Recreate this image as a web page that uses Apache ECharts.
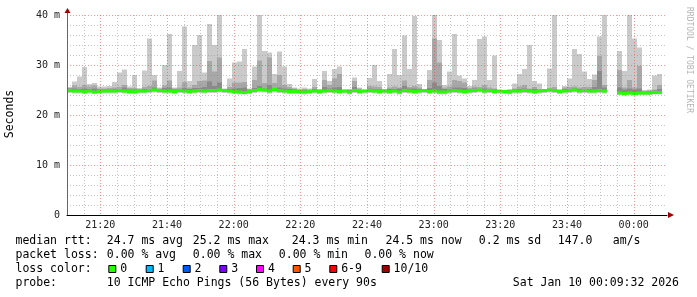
<!DOCTYPE html>
<html><head><meta charset="utf-8">
<script src="https://cdn.jsdelivr.net/npm/echarts@6/dist/echarts.min.js"></script>
<style>html,body{margin:0;padding:0;background:#fff}#c{width:697px;height:297px}</style>
</head><body><div id="c"></div>
<script>
// time of first column, minutes relative to 21:20 ; each column is one 90 s step
const startMinute = -10;
const stepMinutes = 1.5;

const pingMax = [
  25.5, 26.7, 27.7, 29.6, 26.2, 26.4, 25.7, 25.7, 25.8, 26.6,
  28.5, 29.1, 25.7, 28.0, 25.4, 28.9, 35.3, 28.0, 25.5, 30.0,
  36.2, 25.5, 28.8, 37.7, 26.8, 34.0, 36.0, 28.5, 38.2, 34.0,
  40.0, 25.3, 27.3, 30.5, 30.7, 33.2, 25.3, 29.7, 40.0, 32.8,
  32.5, 28.2, 32.7, 29.7, 26.2, 25.5, 25.3, 25.5, 25.3, 27.2,
  25.2, 28.8, 26.8, 29.2, 29.7, 25.1, 25.2, 27.5, 25.5, 25.1,
  27.4, 30.0, 26.8, 25.2, 28.2, 33.2, 28.0, 35.9, 29.2, 39.8,
  26.2, 25.2, 29.0, 40.0, 35.0, 26.0, 28.7, 36.2, 27.9, 27.3,
  25.8, 27.0, 35.2, 35.7, 27.0, 31.9, 25.0, 25.0, 25.2, 26.3,
  28.2, 29.2, 34.0, 26.8, 26.3, 25.2, 29.3, 40.0, 25.2, 25.8,
  27.3, 33.2, 32.2, 28.7, 27.2, 28.1, 35.7, 40.0, null, null,
  32.8, 28.8, 40.0, 35.3, 33.5, 25.0, 25.1, 27.9, 28.2, null
];
const pingHi2 = [
  25.5, 25.9, 25.6, 26.0, 25.7, 25.9, 25.3, 25.3, 25.4, 25.5,
  25.6, 26.0, 25.4, 25.4, 25.2, 25.6, 25.8, 26.9, 25.3, 25.9,
  26.9, 25.3, 25.5, 26.6, 25.5, 26.0, 26.8, 26.9, 30.8, 28.7,
  31.5, 25.2, 25.6, 26.5, 26.5, 26.6, 25.2, 27.0, 30.9, 26.4,
  31.5, 26.4, 28.0, 26.0, 25.6, 25.3, 25.1, 25.2, 25.1, 25.6,
  25.1, 27.0, 26.0, 27.3, 28.2, 25.0, 25.1, 26.8, 25.3, 25.0,
  25.8, 25.7, 25.6, 25.1, 25.5, 25.7, 25.5, 26.9, 25.6, 25.8,
  25.5, 25.1, 27.0, 35.3, 30.5, 25.5, 25.7, 27.0, 26.8, 26.5,
  25.4, 25.7, 25.6, 26.0, 25.5, 25.3, 24.9, 24.9, 25.0, 25.3,
  25.7, 26.0, 25.3, 25.6, 25.2, 25.1, 25.4, 25.6, 25.0, 25.5,
  25.6, 25.7, 25.5, 25.6, 25.6, 27.0, 31.8, 26.0, null, null,
  29.0, 25.5, 27.0, 25.5, 29.8, 24.8, 24.9, 25.1, 26.0, null
];
const pingHi3 = [
  25.3, 25.3, 25.2, 25.3, 25.2, 25.3, 25.1, 25.1, 25.1, 25.2,
  25.2, 25.5, 25.1, 25.1, 25.0, 25.2, 25.2, 25.5, 25.1, 25.4,
  25.5, 25.1, 25.2, 25.4, 25.2, 25.4, 25.4, 25.6, 26.7, 25.8,
  26.5, 25.0, 25.2, 25.3, 25.4, 25.5, 25.0, 25.4, 25.8, 25.3,
  26.0, 25.4, 25.5, 25.3, 25.2, 25.1, 25.0, 25.0, 25.0, 25.2,
  25.0, 25.6, 25.3, 25.5, 25.6, 24.9, 24.9, 25.6, 25.0, 24.9,
  25.3, 25.2, 25.1, 24.9, 25.2, 25.2, 25.3, 25.8, 25.3, 25.3,
  25.2, 25.0, 25.4, 26.5, 25.8, 25.2, 25.2, 25.5, 25.5, 25.4,
  25.1, 25.3, 25.2, 25.3, 25.2, 25.1, 24.8, 24.8, 24.9, 25.1,
  25.2, 25.3, 25.1, 25.2, 25.0, 25.0, 25.1, 25.2, 24.9, 25.2,
  25.2, 25.3, 25.2, 25.2, 25.2, 25.6, 28.8, 25.5, null, null,
  25.5, 25.1, 25.3, 25.1, 25.3, 24.6, 24.7, 24.9, 25.2, null
];
const pingMin = [
  24.4, 24.3, 24.3, 24.2, 24.3, 24.2, 24.3, 24.3, 24.3, 24.3,
  24.4, 24.3, 24.2, 24.2, 24.3, 24.3, 24.4, 24.5, 24.4, 24.3,
  24.3, 24.2, 24.4, 24.3, 24.2, 24.3, 24.4, 24.3, 24.4, 24.4,
  24.5, 24.4, 24.3, 24.2, 24.1, 24.1, 24.2, 24.4, 24.5, 24.5,
  24.3, 24.5, 24.4, 24.3, 24.2, 24.2, 24.2, 24.1, 24.2, 24.3,
  24.2, 24.3, 24.4, 24.3, 24.2, 24.3, 24.1, 24.4, 24.2, 24.3,
  24.4, 24.3, 24.2, 24.3, 24.2, 24.3, 24.1, 24.4, 24.3, 24.2,
  24.3, 24.4, 24.2, 24.3, 24.1, 24.1, 24.3, 24.4, 24.3, 24.2,
  24.3, 24.4, 24.5, 24.3, 24.4, 24.2, 24.3, 24.2, 24.1, 24.3,
  24.3, 24.4, 24.3, 24.2, 24.3, 24.4, 24.5, 24.4, 24.2, 24.3,
  24.4, 24.5, 24.3, 24.4, 24.3, 24.3, 24.4, 24.3, null, null,
  24.0, 23.9, 24.0, 23.9, 24.0, 24.0, 24.0, 24.1, 24.1, null
];
const medianRtt = [
  24.9, 24.8, 24.8, 24.7, 24.8, 24.6, 24.7, 24.8, 24.8, 24.8,
  24.9, 24.8, 24.7, 24.7, 24.8, 24.8, 24.9, 25.0, 24.9, 24.8,
  24.8, 24.7, 24.9, 24.8, 24.7, 24.8, 24.9, 24.8, 24.9, 24.9,
  25.0, 24.9, 24.8, 24.7, 24.6, 24.5, 24.7, 24.9, 25.1, 25.0,
  24.8, 25.1, 24.9, 24.8, 24.7, 24.7, 24.7, 24.6, 24.7, 24.8,
  24.7, 24.8, 24.9, 24.8, 24.7, 24.8, 24.6, 24.9, 24.7, 24.8,
  24.9, 24.8, 24.7, 24.8, 24.7, 24.8, 24.6, 24.9, 24.8, 24.7,
  24.8, 24.9, 24.7, 24.8, 24.6, 24.6, 24.8, 24.9, 24.8, 24.7,
  24.8, 24.9, 25.0, 24.8, 24.9, 24.7, 24.8, 24.7, 24.6, 24.8,
  24.8, 24.9, 24.8, 24.7, 24.8, 24.9, 25.0, 24.9, 24.7, 24.8,
  24.9, 25.0, 24.8, 24.9, 24.8, 24.8, 24.9, 24.8, null, null,
  24.4, 24.3, 24.4, 24.3, 24.4, 24.4, 24.4, 24.5, 24.5, null
];

const xTickMinutes = [0, 20, 40, 60, 80, 100, 120, 140, 160];
const xTickLabels = ['21:20', '21:40', '22:00', '22:20', '22:40', '23:00', '23:20', '23:40', '00:00'];
const xGridStepMinutes = 5;

const statsRow1 = [[16, 'median rtt:'], [107.3, '24.7 ms avg'], [193.3, '25.2 ms max'], [292.3, '24.3 ms min'],
                   [386, '24.5 ms now'], [479.3, '0.2 ms sd'], [558.3, '147.0'], [613.3, 'am/s']];
const statsRow2 = [[16, 'packet loss:'], [107.3, '0.00 % avg'], [193.3, '0.00 % max'], [279.3, '0.00 % min'], [365, '0.00 % now']];
const statsRow4 = [[16, 'probe:'], [107.3, '10 ICMP Echo Pings (56 Bytes) every 90s'], [513.3, 'Sat Jan 10 00:09:32 2026']];
const lossLabels = ['0', '1', '2', '3', '4', '5', '6-9', '10/10'];
const lossColors = ['#26ff00', '#00b8ff', '#0059ff', '#7e00ff', '#ff00ff', '#ff5500', '#ff0000', '#a10000'];
const lossBoxX = [108.3, 145.7, 182.7, 219.3, 256, 292.7, 329.3, 381.7];

const MONO = "'DejaVu Sans Mono', monospace";
const LIGHT = '#cacaca', MID = '#a8a8a8', DARK = '#8a8a8a', GREEN = '#26ff00';
const MINOR_GRID = 'rgba(140,140,140,0.5)';
const MAJOR_GRID = 'rgba(235,50,50,0.5)';
const X_MIN = -10, X_MAX = 170;

const smokeData = [];
for (let i = 0; i < pingMax.length; i++) {
  if (pingMax[i] == null) continue;
  const t0 = startMinute + i * stepMinutes;
  smokeData.push([t0, t0 + stepMinutes, pingMin[i], pingHi2[i], pingHi3[i], pingMax[i], medianRtt[i]]);
}
const xGridData = [];
for (let v = X_MIN + xGridStepMinutes; v < X_MAX; v += xGridStepMinutes) xGridData.push([v]);

function renderSmoke(params, api) {
  const x0 = api.value(0), x1 = api.value(1);
  const mn = api.value(2), h2 = api.value(3), h3 = api.value(4), mx = api.value(5), md = api.value(6);
  function band(lo, hi, color) {
    const a = api.coord([x0, hi]), b = api.coord([x1, lo]);
    return { type: 'rect', shape: { x: a[0], y: a[1], width: b[0] - a[0], height: b[1] - a[1] }, style: { fill: color } };
  }
  const children = [band(mn, mx, LIGHT), band(md, h2, MID)];
  if (h3 > md) children.push(band(md, h3, DARK));
  const m0 = api.coord([x0, md]), m1 = api.coord([x1, md]);
  children.push({ type: 'rect', shape: { x: m0[0], y: m0[1] - 1.5, width: m1[0] - m0[0], height: 3 }, style: { fill: GREEN } });
  return { type: 'group', children };
}

// dotted vertical grid line: explicit 1px dots
function renderVGrid(params, api) {
  const v = api.value(0);
  const major = xTickMinutes.indexOf(Math.round(v)) >= 0;
  const top = api.coord([v, 40]), bot = api.coord([v, 0]);
  const x = Math.round(top[0]);
  const color = major ? MAJOR_GRID : MINOR_GRID;
  const dots = [];
  for (let y = Math.round(top[1]); y < Math.round(bot[1]); y += 3) {
    dots.push({ type: 'rect', shape: { x, y, width: 1, height: 1 }, style: { fill: color } });
  }
  return { type: 'group', children: dots };
}

const graphics = [];
function addText(x, y, text) {
  graphics.push({ type: 'text', x: x - 0.5, y, style: { text, font: '11.5px ' + MONO, fill: '#000', verticalAlign: 'middle', align: 'left' } });
}
statsRow1.forEach(s => addText(s[0], 241.2, s[1]));
statsRow2.forEach(s => addText(s[0], 255.5, s[1]));
addText(16, 269.2, 'loss color:');
lossLabels.forEach((l, k) => {
  graphics.push({ type: 'rect', shape: { x: lossBoxX[k] + 0.5, y: 265.5, width: 7, height: 7 }, style: { fill: lossColors[k], stroke: '#000', lineWidth: 1 } });
  addText(lossBoxX[k] + 12.4, 269.2, l);
});
statsRow4.forEach(s => addText(s[0], 283.5, s[1]));
graphics.push({ type: 'text', x: 10.5, y: 114, rotation: Math.PI / 2,
  style: { text: 'Seconds', font: '11.5px ' + MONO, fill: '#000', align: 'center', verticalAlign: 'middle' } });
graphics.push({ type: 'text', x: 689.5, y: 60, rotation: -Math.PI / 2,
  style: { text: 'RRDTOOL / TOBI OETIKER', font: '8px ' + MONO, fill: '#b4b4b4', align: 'center', verticalAlign: 'middle' } });
graphics.push({ type: 'line', shape: { x1: 67.5, y1: 15, x2: 67.5, y2: 12 }, style: { stroke: '#666', lineWidth: 1 } });
graphics.push({ type: 'polygon', shape: { points: [[64.5, 13], [70.5, 13], [67.5, 8]] }, style: { fill: '#a00000' } });
graphics.push({ type: 'polygon', shape: { points: [[668, 212], [668, 218], [674, 215]] }, style: { fill: '#a00000' } });

const chart = echarts.init(document.getElementById('c'), null, { renderer: 'canvas' });
chart.setOption({
  animation: false,
  backgroundColor: '#ffffff',
  grid: { left: 67, top: 15, right: 30, bottom: 82, containLabel: false },
  xAxis: {
    type: 'value', min: X_MIN, max: X_MAX, interval: 5, z: 5,
    axisLine: { show: true, onZero: false, lineStyle: { color: '#000', width: 1 } },
    axisTick: { show: false },
    axisLabel: {
      margin: 5, color: '#222', fontFamily: MONO, fontSize: 10,
      formatter: v => { const k = xTickMinutes.indexOf(v); return k >= 0 ? xTickLabels[k] : ''; }
    },
    splitLine: { show: false }
  },
  yAxis: {
    type: 'value', min: 0, max: 40, interval: 10, z: 5,
    axisLine: { show: true, onZero: false, lineStyle: { color: '#666', width: 1 } },
    axisTick: { show: false },
    axisLabel: { margin: 7, color: '#222', fontFamily: MONO, fontSize: 10, formatter: v => (v === 0 ? '0' : v + ' m') },
    splitLine: { show: true, lineStyle: { color: MAJOR_GRID, type: [1, 2], width: 1 } },
    minorTick: { show: false, splitNumber: 5 },
    minorSplitLine: { show: true, lineStyle: { color: MINOR_GRID, type: [1, 2], width: 1 } }
  },
  series: [
    { type: 'custom', renderItem: renderSmoke, data: smokeData, clip: true, z: 2,
      encode: { x: [0, 1], y: [2, 5] }, silent: true },
    { type: 'custom', renderItem: renderVGrid, data: xGridData, z: 6, silent: true,
      encode: { x: 0 } }
  ],
  graphic: graphics
});
</script></body></html>
